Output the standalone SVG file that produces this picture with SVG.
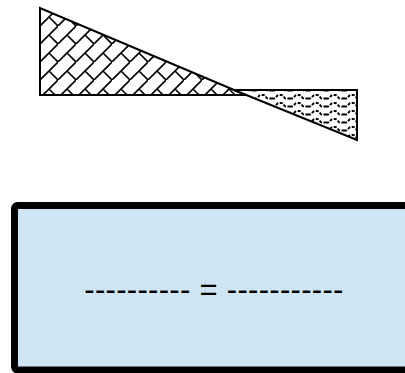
<svg xmlns="http://www.w3.org/2000/svg" width="405" height="373" viewBox="0 0 405 373">
<style>
.tri{stroke:#000;stroke-width:2;stroke-linejoin:miter}
.hatch{fill:none;stroke:#000;stroke-width:1.6}
.box{fill:#cfe5f3;stroke:#000;stroke-width:7}
.eq{font-family:"Liberation Sans",Arial,sans-serif;font-size:31px;fill:#000}
</style>
<defs>
<pattern id="brick" patternUnits="userSpaceOnUse" width="18" height="18" x="40" y="8">
<path class="hatch" d="M-1 19 L19 -1 M9 9 L18 18"/>
</pattern>
<pattern id="wave" patternUnits="userSpaceOnUse" width="18" height="8" x="236" y="93">
<path fill="none" stroke="#000" stroke-width="2" stroke-dasharray="3 1.5" d="M0 5.5 L2 5.5 C4 5.5 4.5 2 7 2 L9 2 C11.5 2 12 5.5 14 5.5 L18 5.5"/>
</pattern>
</defs>
<g id="left-triangle">
<polygon points="40,8 40,95 246,95" fill="#fff"/>
<polygon points="40,8 40,95 246,95" fill="url(#brick)"/>
<polygon class="tri" points="40,8 40,95 246,95" fill="none"/>
</g>
<g id="right-triangle">
<polygon points="234,90 357,90 357,140" fill="#fff"/>
<polygon points="234,90 357,90 357,140" fill="url(#wave)"/>
<polygon class="tri" points="234,90 357,90 357,140" fill="none"/>
</g>
<g id="connectors"></g>
<g id="equation-box">
<rect class="box" x="14.5" y="205.5" width="400" height="164.5" rx="3"/>
<text class="eq" x="214" y="300" text-anchor="middle" letter-spacing="0.3">---------- = -----------</text>
</g>
</svg>
